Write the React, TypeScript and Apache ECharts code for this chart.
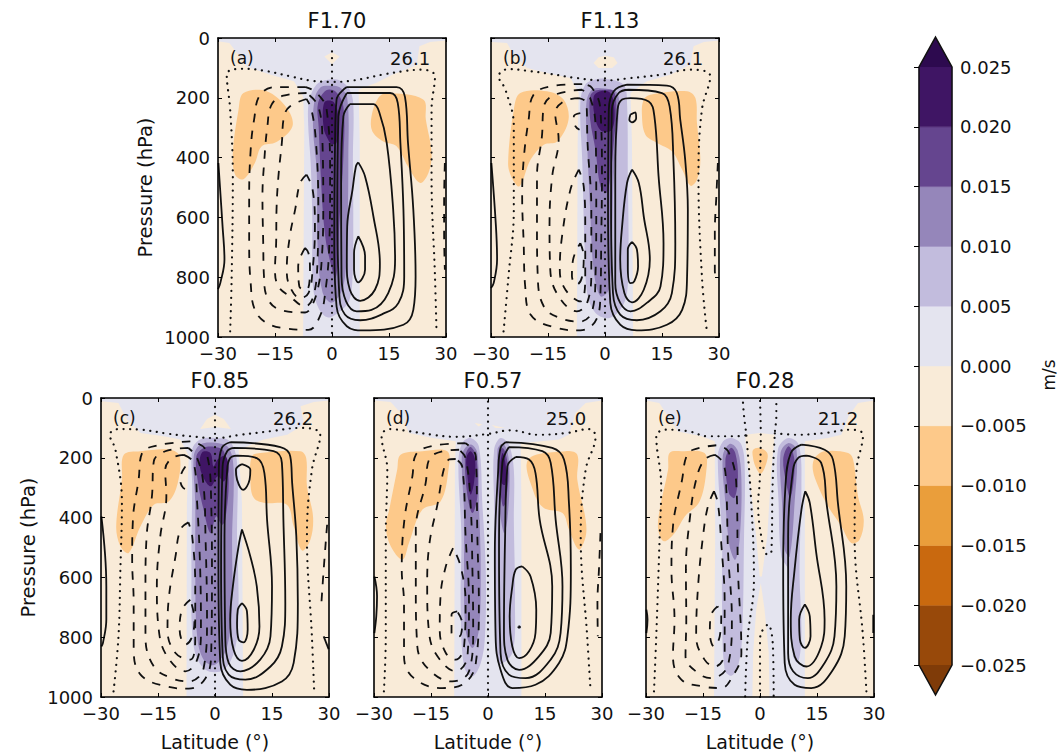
import { useEffect, useRef } from 'react'
import * as echarts from 'echarts'

type Pts = number[][]

const FONT = '"DejaVu Sans", sans-serif'

const LAVENDER = '#e4e4ef'
const WHEAT = '#f9ebd8'
const ORANGE = '#fdc98a'
const PURPLE = ['#c2bcdd', '#9586ba', '#65458f', '#3f1564']

// colourbar
const barEdges = [-0.025, -0.02, -0.015, -0.01, -0.005, 0, 0.005, 0.01, 0.015, 0.02, 0.025]
const barColors = ['#98490a', '#c9690f', '#ea9e3b', '#fdc98a', '#f9ebd8', '#e4e4ef', '#c2bcdd', '#9586ba', '#65458f', '#3f1564']
const barLowTip = '#7f3b08'
const barHighTip = '#2d0a4f'

const latTicks = { min: -30, max: 30, interval: 15 }
const presTicks = { min: 0, max: 1000, interval: 200 }

const titles = ['F1.70', 'F1.13', 'F0.85', 'F0.57', 'F0.28']
const letters = ['(a)', '(b)', '(c)', '(d)', '(e)']
const peaks = ['26.1', '26.1', '26.2', '25.0', '21.2']

// ---- panel a: [latitude, pressure]
const aLavender: Pts = [[-30, 0], [30, 0], [30, 8], [25.8, 13], [23, 28], [22.3, 90], [16, 122], [11.7, 150], [7, 172], [7.3, 350], [7.3, 1000], [-7.6, 1000], [-7.3, 295], [-7.6, 195], [-10, 145], [-16.4, 122], [-22.5, 95], [-25, 50], [-27, 17], [-30, 11]]
const aBlobs: Pts[] = [[[-2, 62], [0, 48], [2, 62], [0, 88]]]
const aOrange: Pts[] = [
  [[-23.3, 184], [-17.2, 178], [-11.9, 234], [-10.4, 295], [-14.6, 348], [-18.5, 362], [-20.3, 418], [-23.3, 472], [-25.5, 457], [-26.1, 385], [-24.6, 240]],
  [[14.4, 184], [24, 206], [24.7, 273], [26.2, 385], [25.4, 451], [23.2, 485], [20, 430], [17, 362], [13.5, 346], [10.6, 312], [10.4, 262], [12.2, 200]],
]
const aPurple: Pts[][] = [
  [[[-1, 140], [2, 142], [4.5, 170], [5.6, 220], [5.5, 400], [5.6, 600], [5.4, 800], [4.5, 880], [2, 915], [-1, 935], [-3.5, 905], [-5, 830], [-5.2, 600], [-5.6, 420], [-6.3, 280], [-6, 210], [-4, 155]]],
  [[[-1, 160], [2, 165], [4, 200], [4.3, 400], [4, 650], [3, 830], [0, 885], [-2.5, 850], [-3.8, 700], [-4, 450], [-5, 300], [-4.5, 200], [-3, 165]]],
  [[[-1.5, 175], [1, 180], [3, 230], [3, 400], [2, 600], [1, 800], [-1, 720], [-2, 640], [-2.8, 500], [-3.5, 300], [-3.7, 220]]],
  [[[-2, 215], [0.5, 215], [1.8, 280], [1.2, 350], [0, 355], [-1, 340], [-2.2, 300]]],
]
const aSolid: Pts[] = [
  [[3.9, 164], [17, 164], [19.2, 197], [20, 351], [21.4, 574], [22, 797], [21.4, 909], [18.8, 959], [8.2, 978], [3.9, 964], [1.2, 898], [0.6, 686], [0.8, 351], [1.2, 206]],
  [[3.9, 184], [15.3, 184], [17.3, 217], [18, 351], [18.8, 574], [19, 797], [17.5, 886], [13.5, 922], [7.4, 944], [3.4, 925], [1.9, 853], [1.4, 574], [1.7, 262]],
  [[4.7, 221], [10.9, 221], [12.5, 251], [14.4, 351], [16.1, 574], [16.6, 741], [14.8, 853], [10.4, 909], [6.5, 914], [3.7, 881], [2.5, 797], [2.4, 463], [3, 262]],
  [[6.9, 416], [8.7, 463], [10.9, 597], [12.6, 753], [11.3, 842], [7.4, 879], [4.7, 842], [3.9, 753], [4, 630], [5.4, 507], [6.3, 429]],
  [[6.9, 663], [8.7, 730], [8.7, 775], [6.9, 817], [5.8, 775], [5.8, 720]],
]
const aEdgeSolid: Pts[] = [[[-29.9, 418], [-28.8, 630], [-28.3, 741], [-29.4, 820], [-30, 840]]]
const aDashed: Pts[] = [
  [[-6.9, 164], [-14.6, 164], [-18.9, 190], [-20.5, 273], [-21.4, 374], [-21.8, 530], [-21.8, 686], [-21.4, 820], [-20.3, 909], [-17.2, 953], [-11.9, 972], [-6.2, 976], [-3.2, 931], [-1.8, 853], [-0.7, 686], [-0.5, 463], [-1.4, 240], [-4, 184]],
  [[-6.7, 184], [-12.8, 193], [-15.9, 223], [-17, 295], [-17.8, 407], [-18.3, 530], [-18.1, 686], [-17.9, 797], [-17.2, 864], [-13.7, 909], [-7.1, 918], [-5.4, 898], [-3.6, 831], [-2.7, 741], [-2.3, 574], [-2.5, 351], [-3.6, 229]],
  [[-6.7, 204], [-11.1, 229], [-12.6, 262], [-13.2, 351], [-14.1, 463], [-14.6, 574], [-14.7, 686], [-15, 775], [-14.1, 831], [-11.1, 864], [-7.1, 898], [-4.9, 864], [-3.8, 741], [-3.6, 574], [-4.2, 351], [-5.4, 240]],
  [[-6.7, 457], [-8.4, 485], [-9.7, 574], [-11.1, 663], [-11.9, 775], [-11.1, 831], [-8.4, 870], [-6.2, 853], [-5.1, 775], [-4.5, 630], [-5.1, 507]],
  [[-7.1, 702], [-8.9, 764], [-8.6, 831], [-6.7, 842], [-5.8, 775], [-6.2, 719]],
]
const aEdgeDashed: Pts[] = [[[29.7, 418], [29.5, 550], [29.5, 650], [29.7, 775]]]
const aDotted: Pts[] = [
  [[-26.8, 981], [-26.4, 797], [-26.1, 463], [-26.8, 240], [-27.7, 122], [-23.3, 103], [-18, 109], [-11, 128], [-5.8, 142], [0, 147], [5.6, 142], [13.5, 122], [18.8, 111], [23.6, 106], [27.1, 128], [26.2, 240], [26.2, 463], [27.1, 797], [27.5, 981]],
  [[0, 45], [0, 1000]],
]

// ---- panel b
const bLavender: Pts = [[-30, 0], [30, 0], [30, 8], [26, 13], [23.3, 28], [22.5, 89], [17.2, 123], [11, 145], [6.7, 184], [7.1, 351], [7.4, 1000], [-7.4, 1000], [-7.2, 351], [-6.9, 184], [-9.1, 134], [-15.3, 117], [-20.5, 100], [-24, 56], [-25.8, 17], [-29.7, 13]]
const bBlobs: Pts[] = [[[-3, 84], [-1.7, 64], [0, 59], [2.3, 64], [3.3, 84], [1.9, 100], [-1.7, 100]]]
const bOrange: Pts[] = [
  [[-22.3, 184], [-15.3, 178], [-10.9, 206], [-9.6, 273], [-12.6, 346], [-16.1, 357], [-19.6, 407], [-22.5, 496], [-24.5, 468], [-25.5, 418], [-24, 240]],
  [[11.9, 190], [21.6, 178], [23.8, 201], [24.2, 284], [25.1, 407], [24.2, 474], [22.5, 494], [20.3, 440], [17.6, 379], [13.7, 351], [10.6, 323], [9.7, 251], [10.2, 206]],
]
const bPurple: Pts[][] = [
  [[[0, 136], [4.9, 156], [5.8, 217], [6, 463], [6.2, 686], [5.8, 853], [4, 909], [1, 937], [-2.5, 920], [-4.7, 853], [-5.4, 686], [-6, 407], [-6.5, 217], [-5.2, 156], [-2.5, 139]]],
  [[[0, 169], [3.2, 184], [3.6, 251], [2.3, 463], [1.8, 686], [1, 842], [-1.2, 864], [-3, 775], [-3.9, 574], [-4.7, 351], [-4.9, 217], [-3.4, 173]]],
  [[[0, 173], [2.3, 178], [3, 240], [2.3, 351], [1.4, 463], [0.4, 518], [-1.2, 496], [-2.5, 374], [-3.9, 273], [-3.9, 195], [-2.5, 176]]],
  [[[-3, 197], [-1.2, 178], [1.4, 184], [2.5, 240], [1.8, 307], [-0.8, 312], [-2.5, 273]]],
]
const bSolid: Pts[] = [
  [[5.8, 156], [16.3, 159], [18.9, 184], [19.8, 273], [21.1, 407], [21.8, 574], [21.6, 797], [20.3, 909], [16.3, 959], [8.4, 978], [4, 959], [1.4, 886], [0.8, 574], [1, 240], [2.3, 178]],
  [[6.2, 173], [15, 184], [17, 229], [18, 407], [18.5, 686], [17.6, 853], [14.6, 914], [8.4, 944], [4, 925], [2.1, 853], [1.6, 574], [1.8, 240], [3.6, 184]],
  [[6.7, 201], [11.5, 212], [13, 262], [14.1, 463], [15.4, 686], [14.6, 831], [11, 886], [6.7, 914], [4, 886], [2.7, 820], [2.7, 463], [3.3, 240], [4.5, 206]],
  [[7.1, 440], [8.9, 485], [10.2, 597], [11.8, 741], [10.2, 842], [7.1, 884], [5.1, 853], [4, 741], [4.5, 630], [5.8, 485]],
  [[7.1, 682], [8.4, 708], [8.7, 764], [7.7, 814], [6.7, 820], [6, 764], [6, 708]],
  [[6.7, 256], [8, 249], [8.2, 268], [7.1, 282], [6.4, 273]],
]
const bEdgeSolid: Pts[] = [[[-29.9, 418], [-28.7, 630], [-28.4, 741], [-29.3, 820], [-30, 836]]]
const bDashed: Pts[] = [
  [[-6, 154], [-14.4, 162], [-18.8, 190], [-20.1, 273], [-21.4, 407], [-21.8, 530], [-21.4, 686], [-21, 831], [-19.6, 925], [-12.6, 970], [-6.5, 978], [-2.1, 937], [-1.2, 853], [-1, 686], [-0.8, 463], [-1.2, 240], [-3.4, 167]],
  [[-6, 173], [-13.2, 190], [-16.1, 229], [-16.6, 329], [-17.9, 463], [-17.9, 630], [-17.7, 797], [-16.1, 898], [-11.8, 937], [-6.5, 948], [-3.4, 914], [-2.5, 797], [-2.3, 574], [-2.5, 295], [-3.9, 201]],
  [[-6.9, 201], [-10.9, 212], [-13.1, 251], [-12.2, 340], [-13.9, 463], [-14.6, 630], [-14.4, 775], [-12.2, 864], [-7.4, 914], [-4.7, 886], [-3.6, 775], [-3.6, 574], [-4.6, 351], [-4.9, 217]],
  [[-6.9, 440], [-9.1, 507], [-11.3, 663], [-11.9, 775], [-10.4, 842], [-6.5, 881], [-5.2, 797], [-5.2, 630], [-5.6, 496]],
  [[-6.5, 686], [-5.6, 730], [-6, 797], [-7.4, 825], [-8.7, 797], [-8.4, 741]],
]
const bEdgeDashed: Pts[] = [[[29.7, 418], [29.3, 530], [28.9, 650], [28.9, 780], [29.7, 810]], [[-6.5, 251], [-8.2, 262], [-7.8, 295], [-6.7, 307]]]
const bDotted: Pts[] = [
  [[-26.7, 981], [-25.4, 797], [-24, 574], [-24, 295], [-26.2, 173], [-28, 128], [-25.4, 104], [-19.6, 111], [-14.4, 120], [-7.4, 134], [0, 142], [6.7, 134], [14.6, 123], [22.5, 106], [27.7, 128], [25.5, 240], [24.6, 463], [25.5, 797], [26.8, 981]],
  [[0, 45], [0, 1000]],
]

// ---- panel c
const cLavender: Pts = [[-30, 0], [30, 0], [30, 8], [26, 13], [22.5, 28], [23.4, 89], [19, 123], [12.8, 139], [6.2, 173], [7.1, 351], [7.4, 1000], [-7.5, 1000], [-7.4, 351], [-6.9, 195], [-9.1, 139], [-13.5, 128], [-19.6, 117], [-23.2, 72], [-25.4, 17], [-29.7, 11]]
const cBlobs: Pts[] = [[[-3.9, 104], [-2.1, 70], [0, 56], [2.3, 70], [4.2, 104], [0, 97]]]
const cOrange: Pts[] = [
  [[-24, 190], [-19.6, 178], [-11.8, 173], [-9.3, 195], [-9.8, 284], [-12.2, 346], [-16.1, 357], [-19.6, 429], [-22.7, 518], [-24.9, 496], [-26, 429], [-24.5, 273]],
  [[9.7, 195], [11.9, 184], [22.5, 178], [24, 201], [24.2, 295], [25.8, 396], [25.1, 474], [22.9, 510], [20.7, 429], [18.9, 357], [13.2, 351], [10.2, 334], [9.3, 273]],
]
const cPurple: Pts[][] = [
  [[[0, 134], [3.9, 145], [5.8, 217], [5.8, 463], [6.2, 686], [5.4, 831], [2.3, 909], [-2.5, 909], [-5.6, 831], [-6.2, 574], [-6, 295], [-6, 173], [-3.9, 139]]],
  [[[0, 150], [3.6, 167], [4.9, 240], [4.5, 463], [4.5, 686], [3.2, 831], [0, 892], [-3, 875], [-4.7, 797], [-5.2, 574], [-5.2, 351], [-5.6, 195], [-3.9, 156]]],
  [[[0, 164], [2.3, 178], [3.6, 273], [2.7, 407], [1.8, 424], [0.3, 396], [-1.2, 452], [-3, 374], [-4.6, 273], [-4.9, 195], [-3, 167]]],
  [[[-3.4, 182], [-1.2, 184], [-0.4, 229], [0.7, 206], [2.7, 193], [3.6, 240], [2.3, 279], [0.7, 262], [-1, 295], [-2.5, 279], [-4, 229]]],
]
const cSolid: Pts[] = [
  [[4, 148], [17.2, 164], [19.8, 195], [20.3, 284], [21.4, 463], [21.8, 686], [20.7, 886], [17.6, 948], [8.4, 976], [4, 959], [1.4, 886], [0.9, 574], [1, 240], [1.8, 167]],
  [[4.9, 167], [15.4, 178], [17.6, 217], [18, 407], [18.5, 686], [17.6, 831], [14.6, 898], [8, 942], [3.6, 925], [2, 853], [1.6, 574], [2, 229], [3.2, 178]],
  [[5.8, 193], [11, 201], [13, 251], [13.7, 407], [15, 630], [14.6, 797], [11.9, 875], [6.7, 914], [3.6, 886], [2.7, 797], [2.5, 463], [3.2, 240], [4, 201]],
  [[7.1, 440], [9.3, 530], [11, 630], [11.7, 764], [10.2, 842], [7.1, 879], [4.9, 842], [4, 741], [4.7, 630], [6.2, 496]],
  [[7.1, 686], [8.4, 713], [8.6, 775], [7.5, 817], [6.2, 808], [5.8, 753], [6, 708]],
  [[7.1, 221], [9.3, 240], [9.1, 273], [7.4, 307], [5.8, 273], [5.5, 240]],
]
const cEdgeSolid: Pts[] = [[[-29.9, 396], [-28.6, 630], [-28.6, 741], [-29.5, 820], [-29.9, 831]], [[28.6, 797], [29.9, 840]]]
const cDashed: Pts[] = [
  [[-6.5, 145], [-15.3, 159], [-19.2, 184], [-20.1, 273], [-21.6, 407], [-21.8, 541], [-21.4, 686], [-21.4, 831], [-19.6, 925], [-12.6, 965], [-6.9, 972], [-2.5, 937], [-1, 853], [-0.8, 574], [-1, 351], [-2.5, 173]],
  [[-7, 167], [-13.1, 178], [-16.1, 212], [-16.6, 329], [-18, 463], [-18.3, 630], [-18.3, 797], [-16.1, 898], [-11.4, 937], [-6.9, 948], [-3, 904], [-2.1, 741], [-2.5, 463], [-3, 295], [-4.7, 201]],
  [[-8.2, 190], [-11.3, 201], [-13.1, 240], [-12.8, 329], [-14.4, 463], [-15.3, 630], [-14.8, 775], [-12.6, 864], [-7.8, 914], [-4.7, 875], [-3.7, 775], [-3.9, 574], [-4.7, 351], [-5.6, 217]],
  [[-7, 416], [-9.1, 440], [-10.4, 530], [-12.1, 663], [-12.5, 775], [-10.4, 853], [-6.5, 875], [-5.2, 797], [-5.2, 630], [-6, 463]],
  [[-6.5, 675], [-8.7, 708], [-9.3, 775], [-7.8, 825], [-6.2, 803], [-5.4, 741]],
]
const cEdgeDashed: Pts[] = [[[29.5, 424], [28.6, 574], [28, 686]], [[-7.8, 229], [-9.2, 270], [-8.4, 300], [-6.8, 307]]]
const cDotted: Pts[] = [
  [[-26.7, 981], [-25.4, 797], [-24.9, 574], [-24.5, 351], [-26.2, 173], [-27.7, 123], [-25.4, 104], [-19.6, 106], [-12.6, 119], [-6.5, 128], [0, 134], [6.7, 123], [14.6, 111], [22.5, 100], [27.7, 123], [25.5, 240], [24.2, 463], [25.5, 797], [26.1, 981]],
  [[0, 30], [0, 1000]],
]

// ---- panel d
const dLavender: Pts = [[-30, 0], [30, 0], [30, 8], [25.7, 17], [23, 50], [21.3, 123], [18.7, 139], [8.6, 151], [8.8, 351], [8.8, 1000], [-8.9, 1000], [-8.7, 240], [-8.5, 145], [-14.6, 134], [-20.8, 117], [-23, 50], [-25.6, 13], [-29.8, 8]]
const dBlobs: Pts[] = [[[-3.5, 84], [-1.5, 88], [-2.5, 95]], [[1, 90], [4.5, 100], [2, 100]]]
const dOrange: Pts[] = [
  [[-23, 190], [-17.3, 178], [-10.7, 178], [-10.4, 240], [-12.5, 346], [-17.3, 374], [-20.8, 485], [-22.5, 541], [-25.6, 496], [-26.9, 429], [-26, 374], [-23.9, 240]],
  [[10.6, 206], [20.4, 178], [23.5, 190], [23.5, 273], [25.7, 407], [25.7, 463], [23.9, 507], [21.3, 440], [19.6, 385], [14.7, 368], [12.1, 318]],
]
const dPurple: Pts[][] = [
  [
    [[-4.6, 134], [-2.4, 162], [-1.5, 351], [-0.6, 574], [-0.8, 797], [-1.9, 886], [-4.1, 931], [-6.3, 898], [-7.2, 686], [-7, 463], [-7.8, 217], [-6.8, 151]],
    [[3.3, 134], [5.5, 156], [6.8, 240], [6.8, 407], [7.1, 686], [6.4, 853], [2.9, 886], [2, 630], [1.6, 351], [1.6, 173]],
  ],
  [
    [[-4.3, 156], [-2.8, 184], [-2.4, 351], [-1.9, 574], [-2.4, 775], [-4.1, 836], [-5.9, 775], [-6.3, 574], [-6.3, 385], [-6.9, 195], [-5.8, 164]],
    [[3.8, 153], [5.1, 178], [5.7, 262], [5.1, 407], [4.2, 452], [2.9, 351], [2.5, 173]],
  ],
  [
    [[-4.5, 164], [-3.1, 195], [-2.8, 329], [-4.1, 385], [-5.4, 329], [-6.1, 206], [-5.4, 173]],
    [[3.8, 167], [4.6, 184], [5.4, 251], [4.6, 351], [3.9, 362], [3.1, 284], [2.9, 184]],
  ],
  [
    [[-4.6, 178], [-3.4, 206], [-3.7, 284], [-4.6, 323], [-5.4, 262], [-5.7, 201]],
    [[3.9, 184], [4.8, 240], [4.5, 290], [3.6, 284], [3.3, 217]],
  ],
]
const dSolid: Pts[] = [
  [[4.6, 148], [16.9, 167], [20, 206], [21.3, 351], [21.8, 574], [20.9, 797], [18.7, 886], [12.5, 959], [6.4, 970], [3.3, 909], [2, 797], [1.8, 518], [2.7, 240], [3.3, 167]],
  [[5.5, 164], [14.3, 178], [16.5, 217], [17.8, 407], [19.6, 630], [19.1, 786], [16.5, 875], [9.9, 937], [5.5, 925], [3.3, 853], [2.9, 518], [3.8, 217]],
  [[7.3, 197], [10.8, 206], [12.5, 251], [13.6, 407], [16.9, 630], [16.5, 786], [13.4, 864], [8.2, 909], [5.1, 875], [4.2, 775], [4.5, 463], [5.1, 229]],
  [[9, 563], [11.2, 597], [12.7, 708], [12.5, 786], [10.8, 847], [8.2, 870], [6.4, 831], [5.7, 730], [6.4, 630], [7.3, 574]],
  [[8, 764], [8.4, 764], [8.4, 768], [8, 768]],
]
const dEdgeSolid: Pts[] = [[[-29.9, 597], [-29.2, 663], [-29.4, 730], [-29.9, 786]]]
const dDashed: Pts[] = [
  [[-5.9, 151], [-14.2, 159], [-19, 190], [-19.9, 262], [-22, 407], [-22.7, 574], [-22.1, 686], [-22.1, 864], [-19.5, 937], [-12, 970], [-6.8, 959], [-3.2, 886], [-2.4, 686], [-2.8, 463], [-3.2, 195]],
  [[-7.6, 173], [-12, 178], [-15.5, 206], [-16.4, 284], [-19, 440], [-19, 630], [-18.6, 831], [-15.5, 909], [-9.4, 948], [-5, 914], [-3.9, 775], [-4.1, 574], [-4.6, 351], [-5.9, 201]],
  [[-8.5, 204], [-10.3, 206], [-13.6, 374], [-15.5, 496], [-16, 630], [-15.5, 786], [-13.3, 864], [-8.5, 914], [-5.4, 864], [-5, 686], [-5.9, 463], [-6.8, 229]],
  [[-9.2, 502], [-11.1, 563], [-12.5, 663], [-12.7, 775], [-11.1, 853], [-8.5, 875], [-6.3, 831], [-5.9, 686], [-7.2, 563]],
  [[-8.1, 714], [-9.6, 725], [-9.6, 786], [-7.6, 797], [-6.8, 753]],
]
const dEdgeDashed: Pts[] = [[[29.6, 452], [29.2, 574], [28.8, 686], [28.9, 797]]]
const dDotted: Pts[] = [
  [[-27.4, 981], [-26.9, 797], [-26.9, 463], [-26.5, 240], [-28, 128], [-26, 104], [-20.8, 111], [-14.6, 123], [-8.5, 130], [0, 120], [6, 108], [13, 123], [20.7, 117], [26.5, 104], [28.3, 128], [25.7, 240], [24.4, 463], [26.1, 797], [27, 981]],
  [[0, 12], [0, 1000]],
]

// ---- panel e
const eLavender: Pts = [[-30, 0], [30, 0], [30, 8], [25.8, 17], [23.3, 61], [21.4, 123], [17.9, 134], [11.8, 145], [11.8, 351], [11.8, 1000], [-12.1, 1000], [-11.8, 463], [-11.9, 145], [-15.4, 128], [-21.6, 112], [-24.2, 61], [-26.5, 17], [-30, 8]]
const eBlobs: Pts[] = [
  [[-3.9, 123], [0, 117], [3.9, 123], [3, 240], [1.9, 463], [0.5, 597], [-0.1, 597], [-1, 463], [-2.5, 295], [-3.6, 184]],
  [[0.2, 619], [1.2, 708], [2.3, 853], [2.5, 1000], [-2, 1000], [-1.8, 853], [-1, 708]],
]
const eOrange: Pts[] = [
  [[-23.8, 184], [-20.7, 178], [-14.6, 184], [-14.1, 240], [-15.9, 346], [-19.8, 396], [-22.5, 452], [-25.3, 479], [-26.8, 440], [-26.4, 374], [-24.2, 240]],
  [[14.4, 201], [17, 178], [23.2, 184], [24.5, 206], [25.8, 329], [27.3, 407], [26.2, 474], [24, 485], [21.4, 429], [17.9, 362], [15.3, 295], [13.9, 240]],
  [[-1.8, 173], [-0.1, 167], [1.9, 184], [1.7, 217], [0.2, 253], [-1.2, 229], [-1.9, 195]],
]
const ePurple: Pts[][] = [
  [
    [[-7.5, 134], [-4.9, 156], [-4, 240], [-4.2, 463], [-4.7, 797], [-5.8, 898], [-7.5, 929], [-9.3, 909], [-10, 686], [-10, 463], [-11.1, 195], [-9.7, 145]],
    [[7.4, 134], [10.2, 156], [10.9, 295], [10.4, 574], [10.9, 797], [10, 886], [8.7, 864], [7.8, 686], [7.4, 574], [5.6, 530], [4.9, 351], [4.7, 173]],
  ],
  [
    [[-7.9, 153], [-5.9, 175], [-4.9, 270], [-5.3, 463], [-6.5, 541], [-8, 496], [-9.1, 351], [-9.8, 195]],
    [[7.4, 151], [9.6, 173], [9.1, 351], [7.8, 530], [6.5, 507], [5.8, 351], [5.4, 184]],
  ],
  [
    [[-7.7, 167], [-6.5, 184], [-5.8, 262], [-6.7, 334], [-8.2, 318], [-9.1, 206]],
    [[7.4, 162], [8.7, 184], [9.1, 240], [8, 334], [6.9, 284], [6.1, 206]],
  ],
  [],
]
const eSolid: Pts[] = [
  [[10.9, 156], [17, 173], [19.2, 206], [20.5, 351], [22.7, 630], [22.3, 797], [19.2, 909], [13.5, 970], [9.1, 959], [6.5, 886], [6.1, 574], [6.7, 295], [8.1, 184]],
  [[12.2, 193], [16.1, 217], [17.5, 351], [20.1, 630], [19.6, 797], [17, 886], [12.6, 937], [8.7, 914], [7.4, 853], [7.4, 463], [8.7, 240], [10, 201]],
  [[11.9, 312], [13.1, 351], [14.8, 518], [17, 741], [16.1, 831], [12.2, 898], [9.1, 864], [8.1, 741], [9.1, 574], [10.9, 374]],
  [[11.8, 691], [13.1, 730], [13.3, 797], [11.8, 836], [10.5, 808], [10.3, 741]],
]
const eEdgeSolid: Pts[] = [[[-29.9, 708], [-29.6, 741], [-29.9, 786]], [[29.8, 725], [29.8, 786]]]
const eDashed: Pts[] = [
  [[-11.5, 158], [-17.6, 173], [-19.4, 197], [-20.5, 273], [-22.9, 429], [-23.3, 574], [-22.5, 741], [-22.9, 864], [-20.7, 942], [-15, 965], [-10.2, 970], [-7.5, 937], [-4.9, 853], [-5.8, 574], [-6.2, 295], [-8.4, 178]],
  [[-11.9, 190], [-14.6, 206], [-16.8, 273], [-18.5, 407], [-19.5, 574], [-19.4, 741], [-19.6, 864], [-16.3, 920], [-12.8, 937], [-8.4, 892], [-7.4, 741], [-8.4, 518], [-8.9, 295], [-9.7, 217]],
  [[-12.1, 312], [-13.7, 362], [-15, 463], [-16.3, 630], [-16.8, 797], [-14.6, 875], [-11.8, 898], [-9.3, 853], [-9.3, 686], [-10.2, 485], [-11.1, 351]],
  [[-11.2, 697], [-13, 730], [-13.2, 786], [-12.1, 831], [-10.6, 797], [-10.2, 725]],
]
const eEdgeDashed: Pts[] = []
const eDotted: Pts[] = [
  [[-27.9, 981], [-27.3, 797], [-26.4, 463], [-26, 295], [-27.3, 128], [-24.7, 106], [-18.9, 111], [-13.7, 128], [-8.4, 128], [-3.6, 123], [-4.2, 60], [-4.5, 11]],
  [[0, 10], [0.2, 120], [-0.1, 284], [-0.5, 351], [1, 507], [2.1, 524], [3, 513], [3.3, 300], [3.9, 118], [4.3, 60], [4.3, 11]],
  [[3.9, 118], [10, 123], [17, 117], [24, 106], [27.1, 123], [25.4, 240], [24.9, 463], [27.1, 797], [28, 981]],
  [[-3.9, 998], [-3.2, 797], [-1.8, 663], [-1.6, 597], [-2.3, 351], [-3.6, 123]],
  [[0, 1000], [0, 808], [1, 769], [2.1, 758], [3.4, 831], [3.6, 1000]],
]

const panelBoxes = [
  { left: 218, top: 38 },
  { left: 491, top: 38 },
  { left: 101, top: 398 },
  { left: 374, top: 398 },
  { left: 646, top: 398 },
]
const BOX_W = 228
const BOX_H = 299

const panels = [
  { lav: aLavender, blobs: aBlobs, orange: aOrange, purple: aPurple, solid: aSolid, edgeSolid: aEdgeSolid, dashed: aDashed, edgeDashed: aEdgeDashed, dotted: aDotted },
  { lav: bLavender, blobs: bBlobs, orange: bOrange, purple: bPurple, solid: bSolid, edgeSolid: bEdgeSolid, dashed: bDashed, edgeDashed: bEdgeDashed, dotted: bDotted },
  { lav: cLavender, blobs: cBlobs, orange: cOrange, purple: cPurple, solid: cSolid, edgeSolid: cEdgeSolid, dashed: cDashed, edgeDashed: cEdgeDashed, dotted: cDotted },
  { lav: dLavender, blobs: dBlobs, orange: dOrange, purple: dPurple, solid: dSolid, edgeSolid: dEdgeSolid, dashed: dDashed, edgeDashed: dEdgeDashed, dotted: dDotted },
  { lav: eLavender, blobs: eBlobs, orange: eOrange, purple: ePurple, solid: eSolid, edgeSolid: eEdgeSolid, dashed: eDashed, edgeDashed: eEdgeDashed, dotted: eDotted },
]

function fillSeries(axis: number, pts: Pts, color: string, z: number, smooth: number) {
  return {
    type: 'custom',
    xAxisIndex: axis,
    yAxisIndex: axis,
    clip: true,
    silent: true,
    z,
    data: [pts[0]],
    renderItem: (_p: any, api: any) => ({
      type: 'polygon',
      shape: { points: pts.map((q) => api.coord(q)), smooth },
      style: { fill: color },
    }),
  }
}

function lineSeries(axis: number, pts: Pts, type: any, closed: boolean, width = 1.8) {
  return {
    type: 'line',
    xAxisIndex: axis,
    yAxisIndex: axis,
    data: closed ? [...pts, pts[0]] : pts,
    showSymbol: false,
    symbol: 'none',
    smooth: pts.length > 2 ? 0.4 : false,
    silent: true,
    z: 8,
    lineStyle: { color: '#111', width, type, cap: type === DOT ? 'round' : 'butt' },
  }
}

const DASH = [8.5, 8.5]
const DOT = [0.1, 6.6]

function buildOption() {
  const grid: any[] = []
  const xAxis: any[] = []
  const yAxis: any[] = []
  const series: any[] = []
  const tickStyle = { show: true, inside: true, length: 4, lineStyle: { color: '#000', width: 1 } }
  const lineStyle = { show: true, onZero: false, lineStyle: { color: '#000', width: 1.6 } }

  panelBoxes.forEach((box, i) => {
    grid.push({
      left: box.left,
      top: box.top,
      width: BOX_W,
      height: BOX_H,
      show: true,
      backgroundColor: WHEAT,
      borderWidth: 0,
    })
    const axisText = { color: '#111', fontSize: 18, fontFamily: FONT }
    // main pair, labelled; the mirrored pair only carries ticks
    xAxis.push({
      type: 'value',
      gridIndex: i,
      position: 'bottom',
      ...latTicks,
      z: 20,
      axisLine: lineStyle,
      axisTick: tickStyle,
      splitLine: { show: false },
      axisLabel: {
        ...axisText,
        margin: 7,
        hideOverlap: false,
        showMinLabel: true,
        showMaxLabel: true,
        formatter: (v: number) => (v < 0 ? '\u2212' + Math.abs(v) : String(v)),
      },
      name: i >= 2 ? 'Latitude (\u00b0)' : '',
      nameLocation: 'middle',
      nameGap: 35,
      nameTextStyle: { color: '#111', fontSize: 19, fontFamily: FONT },
    })
    xAxis.push({
      type: 'value',
      gridIndex: i,
      position: 'top',
      ...latTicks,
      z: 20,
      axisLine: lineStyle,
      axisTick: tickStyle,
      splitLine: { show: false },
      axisLabel: { show: false },
    })
    yAxis.push({
      type: 'value',
      gridIndex: i,
      position: 'left',
      inverse: true,
      ...presTicks,
      z: 20,
      axisLine: lineStyle,
      axisTick: tickStyle,
      splitLine: { show: false },
      axisLabel: {
        ...axisText,
        show: i === 0 || i === 2,
        margin: 8,
        showMinLabel: true,
        showMaxLabel: true,
        formatter: (v: number) => String(v),
      },
      name: i === 0 || i === 2 ? 'Pressure (hPa)' : '',
      nameLocation: 'middle',
      nameGap: 63,
      nameTextStyle: { color: '#111', fontSize: 19.5, fontFamily: FONT },
    })
    yAxis.push({
      type: 'value',
      gridIndex: i,
      position: 'right',
      inverse: true,
      ...presTicks,
      z: 20,
      axisLine: lineStyle,
      axisTick: tickStyle,
      splitLine: { show: false },
      axisLabel: { show: false },
    })

    const axis = i * 2
    const p = panels[i]
    series.push(fillSeries(axis, p.lav, LAVENDER, 2, 0))
    p.blobs.forEach((b) => series.push(fillSeries(axis, b, WHEAT, 3, 0)))
    p.orange.forEach((b) => series.push(fillSeries(axis, b, ORANGE, 3, 0.35)))
    p.purple.forEach((level, k) => level.forEach((b) => series.push(fillSeries(axis, b, PURPLE[k], 4 + k / 10, 0.35))))
    p.solid.forEach((l) => series.push(lineSeries(axis, l, 'solid', true)))
    p.edgeSolid.forEach((l) => series.push(lineSeries(axis, l, 'solid', false)))
    p.dashed.forEach((l) => series.push(lineSeries(axis, l, DASH, true)))
    p.edgeDashed.forEach((l) => series.push(lineSeries(axis, l, DASH, false)))
    p.dotted.forEach((l) => series.push(lineSeries(axis, l, DOT, false, 2.2)))
  })

  // colourbar
  const barGrid = panelBoxes.length
  const barAxis = panelBoxes.length * 2
  grid.push({ left: 919, top: 67, width: 33, height: 598 })
  xAxis.push({ type: 'value', gridIndex: barGrid, min: 0, max: 1, show: false })
  yAxis.push({
    type: 'value',
    gridIndex: barGrid,
    position: 'right',
    min: -0.025,
    max: 0.025,
    interval: 0.005,
    z: 20,
    axisLine: { show: false },
    axisTick: { show: true, inside: true, length: 5, lineStyle: { color: '#000', width: 1 } },
    splitLine: { show: false },
    axisLabel: {
      color: '#111',
      fontSize: 18,
      fontFamily: FONT,
      margin: 8,
      formatter: (v: number) => (v < -1e-9 ? '\u2212' : '') + Math.abs(v).toFixed(3),
    },
  })
  const barShape = (points: Pts, style: any) => ({
    type: 'custom',
    xAxisIndex: barAxis,
    yAxisIndex: barAxis,
    clip: false,
    silent: true,
    z: style.fill === 'none' ? 9 : 3,
    data: [points[0]],
    renderItem: (_p: any, api: any) => ({
      type: 'polygon',
      shape: { points: points.map((q) => api.coord(q)) },
      style,
    }),
  })
  barColors.forEach((color, k) => {
    const lo = barEdges[k]
    const hi = barEdges[k + 1]
    series.push(barShape([[0, lo], [1, lo], [1, hi], [0, hi]], { fill: color, stroke: color, lineWidth: 0.5 }))
  })
  series.push(barShape([[0, -0.025], [1, -0.025], [0.5, -0.0275]], { fill: barLowTip }))
  series.push(barShape([[0, 0.025], [1, 0.025], [0.5, 0.0275]], { fill: barHighTip }))
  series.push(barShape([[0, -0.025], [0.5, -0.0275], [1, -0.025], [1, 0.025], [0.5, 0.0275], [0, 0.025]], { fill: 'none', stroke: '#111', lineWidth: 1.5 }))

  const title = panelBoxes.map((box, i) => ({
    text: titles[i],
    left: box.left + BOX_W / 2,
    top: box.top - 33,
    textAlign: 'center',
    textStyle: { color: '#111', fontSize: 21, fontWeight: 'normal', fontFamily: FONT },
  }))

  const graphic: any[] = []
  panelBoxes.forEach((box, i) => {
    graphic.push({
      type: 'text',
      left: box.left + 12,
      top: box.top + 11,
      z: 30,
      style: { text: letters[i], fill: '#111', fontSize: 17, fontFamily: FONT },
    })
    graphic.push({
      type: 'text',
      left: box.left + 172,
      top: box.top + 11,
      z: 30,
      style: { text: peaks[i], fill: '#111', fontSize: 18, fontFamily: FONT },
    })
  })
  graphic.push({
    type: 'text',
    x: 1049,
    y: 375,
    rotation: Math.PI / 2,
    style: { text: 'm/s', fill: '#111', fontSize: 17, fontFamily: FONT, align: 'center', verticalAlign: 'middle' },
  })

  return { animation: false, backgroundColor: '#fff', title, grid, xAxis, yAxis, series, graphic }
}

export default function App() {
  const chartRef = useRef<HTMLDivElement>(null)

  useEffect(() => {
    if (!chartRef.current) return
    const chart = echarts.init(chartRef.current, null, { renderer: 'svg' })
    chart.setOption(buildOption() as any)
    return () => chart.dispose()
  }, [])

  return <div ref={chartRef} style={{ position: 'absolute', left: 0, top: 0, width: 1060, height: 752 }} />
}
